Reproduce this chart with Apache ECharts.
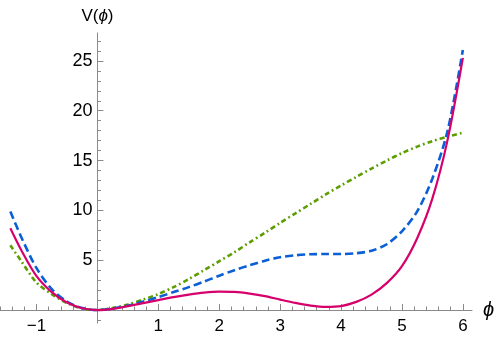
<!DOCTYPE html>
<html>
<head>
    <meta charset="utf-8">
    <title>V(phi)</title>
    <script src="https://cdn.jsdelivr.net/npm/echarts@6.0.0/dist/echarts.min.js"></script>
    <style>
        html, body { margin: 0; padding: 0; background: #fff; }
        #main { width: 498px; height: 341px; }
    </style>
</head>
<body>
    <div id="main"></div>
    <script type="text/javascript">
        // sample points
        var phi = [-1.43, -1.25, -1, -0.75, -0.5, -0.25, 0, 0.25, 0.5, 0.75, 1, 1.25, 1.5, 1.75, 2, 2.25, 2.5, 2.75, 3, 3.25, 3.5, 3.75, 4, 4.25, 4.5, 4.75, 5, 5.25, 5.5, 5.75, 6];
        var vSolid = [8.2, 6.0, 3.4, 1.8, 0.75, 0.18, 0, 0.12, 0.4, 0.7, 1.0, 1.3, 1.55, 1.75, 1.85, 1.82, 1.65, 1.4, 1.05, 0.72, 0.45, 0.32, 0.4, 0.82, 1.55, 2.7, 4.4, 7.2, 11.2, 17.1, 25.3];
        var vDashed = [9.9, 7.3, 4.2, 2.1, 0.85, 0.2, 0, 0.15, 0.45, 0.85, 1.3, 1.8, 2.3, 2.85, 3.45, 4.0, 4.5, 4.95, 5.3, 5.5, 5.6, 5.62, 5.62, 5.7, 5.95, 6.6, 7.9, 9.9, 13.2, 18.0, 26.1];
        var vDotDash = [6.5, 4.9, 2.75, 1.6, 0.7, 0.15, 0, 0.2, 0.55, 1.05, 1.6, 2.3, 3.1, 4.0, 4.9, 5.8, 6.8, 7.75, 8.75, 9.7, 10.65, 11.6, 12.5, 13.35, 14.2, 15.0, 15.75, 16.4, 16.95, 17.4, 17.8];

        var xMajor = [-1, 1, 2, 3, 4, 5, 6];
        var yMajor = [5, 10, 15, 20, 25];
        var xMinor = [-1.6, -1.4, -1.2, -0.8, -0.6, -0.4, -0.2, 0.2, 0.4, 0.6, 0.8, 1.2, 1.4, 1.6, 1.8, 2.2, 2.4, 2.6, 2.8, 3.2, 3.4, 3.6, 3.8, 4.2, 4.4, 4.6, 4.8, 5.2, 5.4, 5.6, 5.8];
        var yMinor = [-1, 1, 2, 3, 4, 6, 7, 8, 9, 11, 12, 13, 14, 16, 17, 18, 19, 21, 22, 23, 24, 26, 27];

        function pairs(ys) {
            var out = [];
            for (var i = 0; i < phi.length; i++) {
                out.push([phi[i], ys[i]]);
            }
            return out;
        }

        var xMin = -1.6, xMax = 6.15, yMin = -1.3, yMax = 27.8;
        var gridW = 472, gridH = 290;
        // shift the axes from the grid edges onto the zero lines
        var yAxisShift = -(0 - xMin) * gridW / (xMax - xMin);
        var xAxisShift = -(0 - yMin) * gridH / (yMax - yMin);

        var axisGray = '#8a8a8a';
        var font = "'Liberation Sans', Arial, sans-serif";

        var myChart = echarts.init(document.getElementById('main'));
        var option = {
            animation: false,
            grid: { left: 0, top: 33, width: gridW, height: gridH, outerBoundsMode: 'none' },
            xAxis: [
                {
                    type: 'value', min: xMin, max: xMax, position: 'bottom', offset: xAxisShift,
                    axisLine: { onZero: false, lineStyle: { color: axisGray, width: 1 } },
                    axisTick: { inside: true, length: 6, customValues: xMajor, lineStyle: { color: axisGray } },
                    axisLabel: {
                        customValues: xMajor, color: '#000', fontSize: 17, fontFamily: font, margin: 8,
                        formatter: function (v) { return v < 0 ? '\u2212' + (-v) : '' + v; }
                    },
                    splitLine: { show: false },
                    name: '{i|\u03d5}', nameLocation: 'end', nameGap: 11,
                    nameTextStyle: { rich: { i: { fontStyle: 'italic', fontSize: 20, fontFamily: font, color: '#000' } } }
                },
                {
                    type: 'value', min: xMin, max: xMax, position: 'bottom', offset: xAxisShift,
                    axisLine: { show: false, onZero: false },
                    axisTick: { inside: true, length: 3.5, customValues: xMinor, lineStyle: { color: axisGray } },
                    axisLabel: { show: false },
                    splitLine: { show: false }
                }
            ],
            yAxis: [
                {
                    type: 'value', min: yMin, max: yMax, position: 'left', offset: yAxisShift,
                    axisLine: { onZero: false, lineStyle: { color: axisGray, width: 1 } },
                    axisTick: { inside: true, length: 6, customValues: yMajor, lineStyle: { color: axisGray } },
                    axisLabel: { customValues: yMajor, color: '#000', fontSize: 18, fontFamily: font, margin: 5 },
                    splitLine: { show: false },
                    name: 'V({i|\u03d5})', nameLocation: 'end', nameGap: 8,
                    nameTextStyle: {
                        color: '#000', fontSize: 17, fontFamily: font,
                        rich: { i: { fontStyle: 'italic', fontSize: 17, fontFamily: font, color: '#000' } }
                    }
                },
                {
                    type: 'value', min: yMin, max: yMax, position: 'left', offset: yAxisShift,
                    axisLine: { show: false, onZero: false },
                    axisTick: { inside: true, length: 3.5, customValues: yMinor, lineStyle: { color: axisGray } },
                    axisLabel: { show: false },
                    splitLine: { show: false }
                }
            ],
            series: [
                {
                    type: 'line', data: pairs(vDotDash), smooth: 0.3, showSymbol: false,
                    lineStyle: { color: '#5c9e00', width: 2.6, type: [5, 3, 1.8, 3] }
                },
                {
                    type: 'line', data: pairs(vDashed), smooth: 0.3, showSymbol: false,
                    lineStyle: { color: '#0a5fd6', width: 2.6, type: [8, 4] }
                },
                {
                    type: 'line', data: pairs(vSolid), smooth: 0.3, showSymbol: false,
                    lineStyle: { color: '#d6006c', width: 2.2, type: 'solid' }
                }
            ]
        };
        myChart.setOption(option);
    </script>
</body>
</html>
